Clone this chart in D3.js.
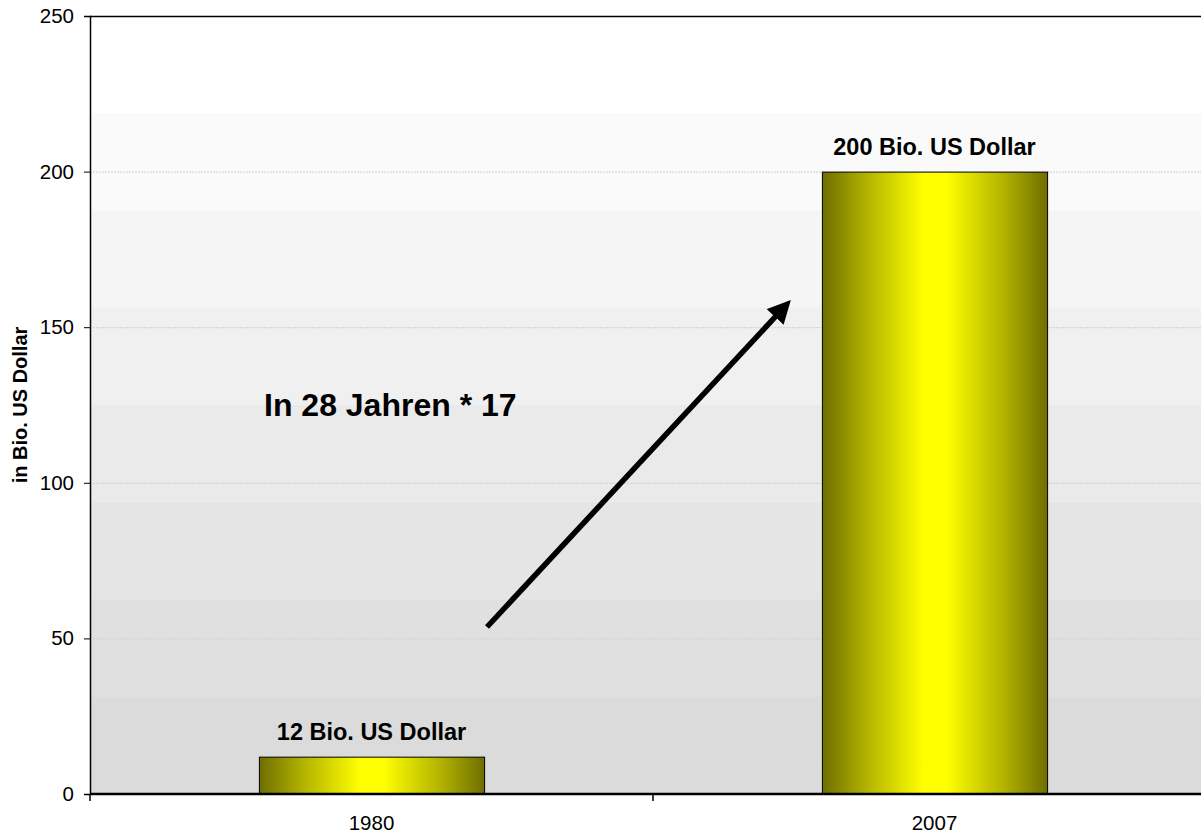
<!DOCTYPE html>
<html>
<head>
<meta charset="utf-8">
<script src="https://cdn.jsdelivr.net/npm/d3@7"></script>
<style>
  html, body { margin: 0; padding: 0; background: #fff; }
  svg { display: block; font-family: "Liberation Sans", Arial, sans-serif; }
</style>
</head>
<body>
<svg id="chart" width="1201" height="833"></svg>
<script>
// Data
const years = ["1980", "2007"];
const values = [12, 200];
const valueLabels = ["12 Bio. US Dollar", "200 Bio. US Dollar"];
const yTicks = [0, 50, 100, 150, 200, 250];
const yTitle = "in Bio. US Dollar";
const note = "In 28 Jahren * 17";

const svg = d3.select("#chart");
const plotL = 90, plotT = 16, plotB = 794, plotR = 1216;

const x = d3.scaleBand().domain(years).range([plotL, plotR])
  .paddingInner(0.6).paddingOuter(0.3);
const y = d3.scaleLinear().domain([0, 250]).range([plotB, plotT]);

const defs = svg.append("defs");
const grad = defs.append("linearGradient").attr("id", "barGrad")
  .attr("x1", "0%").attr("x2", "100%").attr("y1", "0%").attr("y2", "0%");
[[0, "#6e6e00"], [0.2, "#b4b400"], [0.45, "#ffff00"], [0.55, "#ffff00"], [0.8, "#b4b400"], [1, "#6e6e00"]]
  .forEach(([o, c]) => grad.append("stop").attr("offset", o).attr("stop-color", c));

const marker = defs.append("marker").attr("id", "arrowHead")
  .attr("viewBox", "0 0 10 10").attr("refX", 5).attr("refY", 5)
  .attr("markerWidth", 4.2).attr("markerHeight", 4.2)
  .attr("markerUnits", "strokeWidth").attr("orient", "auto");
marker.append("path").attr("d", "M0,0 L10,5 L0,10 Z").attr("fill", "#000");

// Banded background shading, light at top to grey at bottom
const nBands = 8;
const bandH = (plotB - plotT) / nBands;
const shade = d3.scaleLinear().domain([0, nBands - 1]).range([255, 219]);
for (let i = 0; i < nBands; i++) {
  const v = Math.round(shade(i));
  svg.append("rect").attr("x", plotL).attr("y", plotT + i * bandH)
    .attr("width", plotR - plotL).attr("height", bandH + 0.5)
    .attr("fill", `rgb(${v},${v},${v})`);
}

// Gridlines
svg.append("g").selectAll("line").data(yTicks.filter(t => t > 0 && t < 250)).join("line")
  .attr("x1", plotL).attr("x2", plotR)
  .attr("y1", d => y(d) + 0.5).attr("y2", d => y(d) + 0.5)
  .attr("stroke", "#cfcfcf").attr("stroke-width", 1).attr("stroke-dasharray", "2,1");

// Top border
svg.append("line").attr("x1", plotL).attr("x2", plotR)
  .attr("y1", plotT + 0.5).attr("y2", plotT + 0.5).attr("stroke", "#000").attr("stroke-width", 1.5);

// Bars
svg.append("g").selectAll("rect").data(years).join("rect")
  .attr("x", d => x(d) + 0.5).attr("width", x.bandwidth())
  .attr("y", (d, i) => y(values[i]) + 0.5).attr("height", (d, i) => y(0) - y(values[i]))
  .attr("fill", "url(#barGrad)").attr("stroke", "#000").attr("stroke-width", 1);

// Value labels
svg.append("g").selectAll("text").data(years).join("text")
  .attr("x", d => x(d) + x.bandwidth() / 2)
  .attr("y", (d, i) => y(values[i]) - 16.5)
  .attr("text-anchor", "middle").attr("font-size", 23.5).attr("font-weight", "bold")
  .attr("fill", "#000").text((d, i) => valueLabels[i]);

// Y axis
const yAxis = svg.append("g").attr("transform", `translate(${plotL},0)`)
  .call(d3.axisLeft(y).tickValues(yTicks).tickSize(6).tickPadding(10));
yAxis.select(".domain").attr("stroke", "#000").attr("stroke-width", 1.5);
yAxis.selectAll(".tick line").attr("stroke", "#000");
yAxis.selectAll(".tick text").attr("font-size", 20.5).attr("fill", "#000")
  .attr("font-family", "Liberation Sans, Arial, sans-serif");

// X axis
const xAxis = svg.append("g").attr("transform", `translate(0,${plotB})`)
  .call(d3.axisBottom(x).tickSize(0).tickPadding(21));
xAxis.select(".domain").remove();
xAxis.selectAll(".tick text").attr("font-size", 20.5).attr("fill", "#000")
  .attr("font-family", "Liberation Sans, Arial, sans-serif");
svg.append("line").attr("x1", plotL).attr("x2", plotR)
  .attr("y1", plotB).attr("y2", plotB).attr("stroke", "#000").attr("stroke-width", 2.5);
// category dividers
const dividers = [plotL, plotL + x.step()];
svg.append("g").selectAll("line").data(dividers).join("line")
  .attr("x1", d => d).attr("x2", d => d).attr("y1", plotB).attr("y2", plotB + 7)
  .attr("stroke", "#000").attr("stroke-width", 1.5);

// Y axis title
svg.append("text").attr("transform", `translate(27,${(plotT + plotB) / 2}) rotate(-90)`)
  .attr("text-anchor", "middle").attr("font-size", 20).attr("font-weight", "bold")
  .attr("fill", "#000").text(yTitle);

// Annotation
svg.append("text").attr("x", 264).attr("y", 416)
  .attr("font-size", 32).attr("font-weight", "bold").attr("fill", "#000").text(note);

svg.append("line")
  .attr("x1", 487).attr("y1", 627).attr("x2", 783).attr("y2", 308.5)
  .attr("stroke", "#000").attr("stroke-width", 5.5)
  .attr("marker-end", "url(#arrowHead)");
</script>
</body>
</html>
